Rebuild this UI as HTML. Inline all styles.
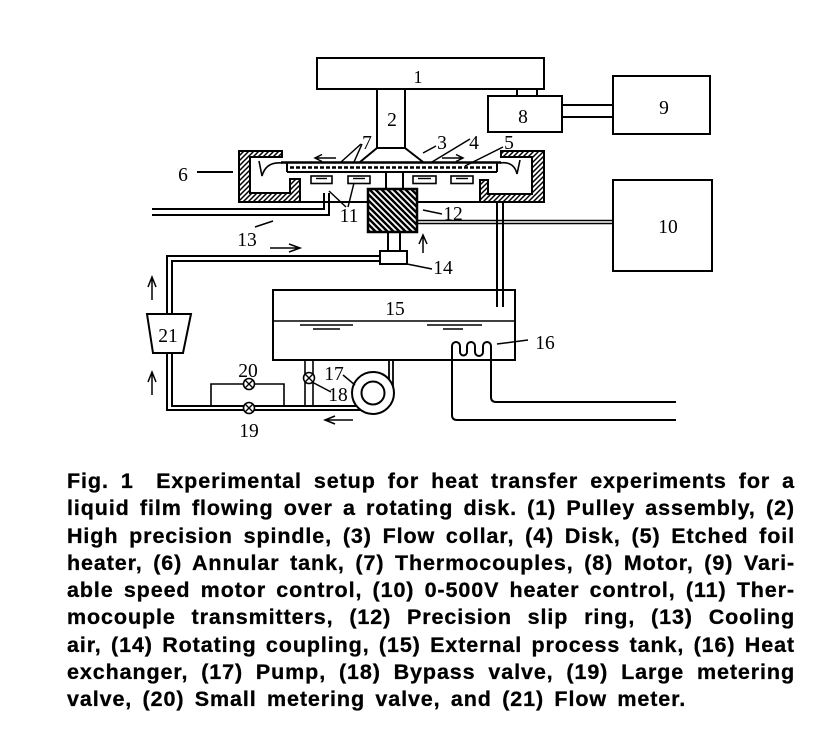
<!DOCTYPE html>
<html><head><meta charset="utf-8"><style>
html,body{margin:0;padding:0;background:#fff;}
body{width:820px;height:737px;position:relative;overflow:hidden;}
svg{position:absolute;left:0;top:0;}
.cap{position:absolute;left:67px;width:728px;font-family:"Liberation Sans",Arial,sans-serif;font-weight:bold;font-size:21.5px;line-height:27px;height:27px;letter-spacing:0.9px;color:#000;white-space:nowrap;-webkit-text-stroke:0.3px #000;}
.j{text-align:justify;text-align-last:justify;white-space:normal;}
</style></head><body>
<svg width="820" height="737" viewBox="0 0 820 737" xmlns="http://www.w3.org/2000/svg">
<defs>
<pattern id="h1" patternUnits="userSpaceOnUse" width="5" height="5">
<path d="M-1,1 l2,-2 M0,5 l5,-5 M4,6 l2,-2" stroke="#000" stroke-width="1.5"/>
</pattern>
<pattern id="h2" patternUnits="userSpaceOnUse" width="6" height="6">
<path d="M-1,5 l2,2 M0,0 l6,6 M5,-1 l2,2" stroke="#000" stroke-width="2.5"/>
</pattern>
</defs>
<g fill="none" stroke="#000" stroke-width="2">
<rect x="317" y="58" width="227" height="31"/>
<line x1="377" y1="89" x2="377" y2="148"/>
<line x1="405" y1="89" x2="405" y2="148"/>
<path d="M377,148 L405,148 L423,162 M377,148 L360,162" />
<line x1="517" y1="89" x2="517" y2="96"/>
<line x1="537" y1="89" x2="537" y2="96"/>
<rect x="488" y="96" width="74" height="36"/>
<line x1="562" y1="105" x2="613" y2="105"/>
<line x1="562" y1="117" x2="613" y2="117"/>
<rect x="613" y="76" width="97" height="58"/>
<rect x="613" y="180" width="99" height="91"/>
<line x1="417" y1="220.5" x2="613" y2="220.5" stroke-width="1.6"/>
<line x1="417" y1="223.5" x2="613" y2="223.5" stroke-width="1.6"/>
<polygon points="239,151 282,151 282,157 250,157 250,193 290,193 290,179 300,179 300,202 239,202" fill="url(#h1)"/>
<polygon points="544,151 501,151 501,157 532,157 532,194 488,194 488,180 480,180 480,202 544,202" fill="url(#h1)"/>
<line x1="300" y1="202" x2="368" y2="202"/>
<line x1="417" y1="202" x2="480" y2="202"/>
<line x1="281" y1="162.5" x2="501" y2="162.5" stroke-width="2.5"/>
<line x1="290" y1="167.5" x2="494" y2="167.5" stroke-width="2.6" stroke-dasharray="4 2"/>
<line x1="287" y1="172" x2="497" y2="172"/>
<line x1="287" y1="163" x2="287" y2="172"/>
<line x1="497" y1="163" x2="497" y2="172"/>
<rect x="311" y="176" width="21" height="7.5" stroke-width="1.6"/>
<rect x="348" y="176" width="22" height="7.5" stroke-width="1.6"/>
<rect x="413" y="176" width="23" height="7.5" stroke-width="1.6"/>
<rect x="451" y="176" width="22" height="7.5" stroke-width="1.6"/>
<line x1="316" y1="178.5" x2="327" y2="178.5" stroke-width="1.4"/>
<line x1="353" y1="178.5" x2="365" y2="178.5" stroke-width="1.4"/>
<line x1="418" y1="178.5" x2="431" y2="178.5" stroke-width="1.4"/>
<line x1="456" y1="178.5" x2="468" y2="178.5" stroke-width="1.4"/>
<line x1="386" y1="172" x2="386" y2="189"/>
<line x1="403" y1="172" x2="403" y2="189"/>
<rect x="368" y="189" width="49" height="43" fill="url(#h2)" stroke-width="2.5"/>
<line x1="388" y1="232" x2="388" y2="251"/>
<line x1="400" y1="232" x2="400" y2="251"/>
<rect x="380" y="251" width="27" height="13"/>
<path d="M152,209 L324,209 L324,193"/>
<path d="M152,215 L329,215 L329,193"/>
<line x1="497" y1="202" x2="497" y2="307"/>
<line x1="503" y1="202" x2="503" y2="307"/>
<path d="M380,256 L167,256 L167,314"/>
<path d="M380,261 L172,261 L172,314"/>
<path d="M167,353 L167,410 L361,410"/>
<path d="M172,353 L172,406 L356,406"/>
<polygon points="147,314 191,314 183,353 153,353" fill="#fff"/>
<path d="M211,406 L211,384 L284,384 L284,406" stroke-width="1.6"/>
<rect x="273" y="290" width="242" height="70"/>
<line x1="273" y1="321" x2="515" y2="321" stroke-width="1.5"/>
<line x1="300" y1="325" x2="353" y2="325" stroke-width="1.5"/>
<line x1="313" y1="329" x2="340" y2="329" stroke-width="1.5"/>
<line x1="427" y1="325" x2="482" y2="325" stroke-width="1.5"/>
<line x1="443" y1="329" x2="463" y2="329" stroke-width="1.5"/>
<line x1="305" y1="360" x2="305" y2="406" stroke-width="1.6"/>
<line x1="313" y1="360" x2="313" y2="406" stroke-width="1.6"/>
<line x1="389" y1="360" x2="389" y2="386" stroke-width="1.8"/>
<line x1="393" y1="360" x2="393" y2="392" stroke-width="1.8"/>
<circle cx="373" cy="393" r="21" fill="#fff"/>
<circle cx="373" cy="393" r="11.5"/>
<path d="M676,420 L457,420 Q452,420 452,415 L452,346 A4,4 0 0 1 460,346 L460,352 A3.5,3.5 0 0 0 467,352 L467,346 A4,4 0 0 1 475,346 L475,352 A4,4 0 0 0 483,352 L483,346 A4,4 0 0 1 491,346 L491,397 Q491,402 496,402 L676,402"/>
<g fill="#fff" stroke-width="1.6">
<circle cx="309" cy="378" r="5.5"/>
<circle cx="249" cy="384" r="5.5"/>
<circle cx="249" cy="408" r="5.5"/>
</g>
<g stroke-width="1.4">
<path d="M305,374 l8,8 M313,374 l-8,8"/>
<path d="M245,380 l8,8 M253,380 l-8,8"/>
<path d="M245,404 l8,8 M253,404 l-8,8"/>
</g>
<path d="M283,163 Q266,161 262,176 L259,161" stroke-width="1.6"/>
<path d="M500,163 Q514,161 517,174 L520,160" stroke-width="1.6"/>
<g stroke-width="1.5">
<path d="M315,158 L336,158 M322,154.5 L315,158 L322,161.5"/>
<path d="M442,158 L463,158 M456,154.5 L463,158 L456,161.5"/>
<path d="M270,248 L300,248 M289,244 L300,248 L289,252"/>
<path d="M423,253 L423,235 M419,244 L423,235 L427,244"/>
<path d="M152,300 L152,277 M148,287 L152,277 L156,287"/>
<path d="M152,395 L152,372 M148,382 L152,372 L156,382"/>
<path d="M353,420 L325,420 M335,416 L325,420 L335,424"/>
</g>
<g stroke-width="1.5">
<line x1="197" y1="172" x2="233" y2="172" stroke-width="2"/>
<line x1="361" y1="144" x2="341" y2="162"/>
<line x1="362" y1="144" x2="354" y2="162"/>
<line x1="423" y1="153" x2="436" y2="146"/>
<line x1="470" y1="139" x2="432" y2="162"/>
<line x1="503" y1="147" x2="465" y2="166"/>
<line x1="346" y1="207" x2="329" y2="191"/>
<line x1="348" y1="207" x2="354" y2="183"/>
<line x1="423" y1="210" x2="442" y2="214"/>
<line x1="255" y1="227" x2="273" y2="221"/>
<line x1="407" y1="264" x2="432" y2="269"/>
<line x1="497" y1="344" x2="528" y2="340"/>
<line x1="343" y1="375" x2="355" y2="385"/>
<line x1="312" y1="382" x2="331" y2="392"/>
</g>
</g>
<g font-family="Liberation Serif, Times New Roman, serif" font-size="19.5" fill="#000" text-anchor="middle">
<text x="418" y="83" font-size="18">1</text>
<text x="392" y="126">2</text>
<text x="442" y="149">3</text>
<text x="474" y="149">4</text>
<text x="509" y="149">5</text>
<text x="183" y="181">6</text>
<text x="367" y="149">7</text>
<text x="523" y="123">8</text>
<text x="664" y="114">9</text>
<text x="668" y="233">10</text>
<text x="349" y="222">11</text>
<text x="453" y="220">12</text>
<text x="247" y="246">13</text>
<text x="443" y="274">14</text>
<text x="395" y="315">15</text>
<text x="545" y="349">16</text>
<text x="334" y="380">17</text>
<text x="338" y="401">18</text>
<text x="249" y="437">19</text>
<text x="248" y="377">20</text>
<text x="168" y="342">21</text>
</g>
</svg>
<div class="cap j" style="top:468px;">Fig. 1&#8195;Experimental setup for heat transfer experiments for a</div>
<div class="cap j" style="top:495.25px;">liquid film flowing over a rotating disk. (1) Pulley assembly, (2)</div>
<div class="cap j" style="top:522.5px;">High precision spindle, (3) Flow collar, (4) Disk, (5) Etched foil</div>
<div class="cap j" style="top:549.75px;">heater, (6) Annular tank, (7) Thermocouples, (8) Motor, (9) Vari-</div>
<div class="cap j" style="top:577px;">able speed motor control, (10) 0-500V heater control, (11) Ther-</div>
<div class="cap j" style="top:604.25px;">mocouple transmitters, (12) Precision slip ring, (13) Cooling</div>
<div class="cap j" style="top:631.5px;">air, (14) Rotating coupling, (15) External process tank, (16) Heat</div>
<div class="cap j" style="top:658.75px;">exchanger, (17) Pump, (18) Bypass valve, (19) Large metering</div>
<div class="cap" style="top:686px;word-spacing:3.5px;">valve, (20) Small metering valve, and (21) Flow meter.</div>
</body></html>
